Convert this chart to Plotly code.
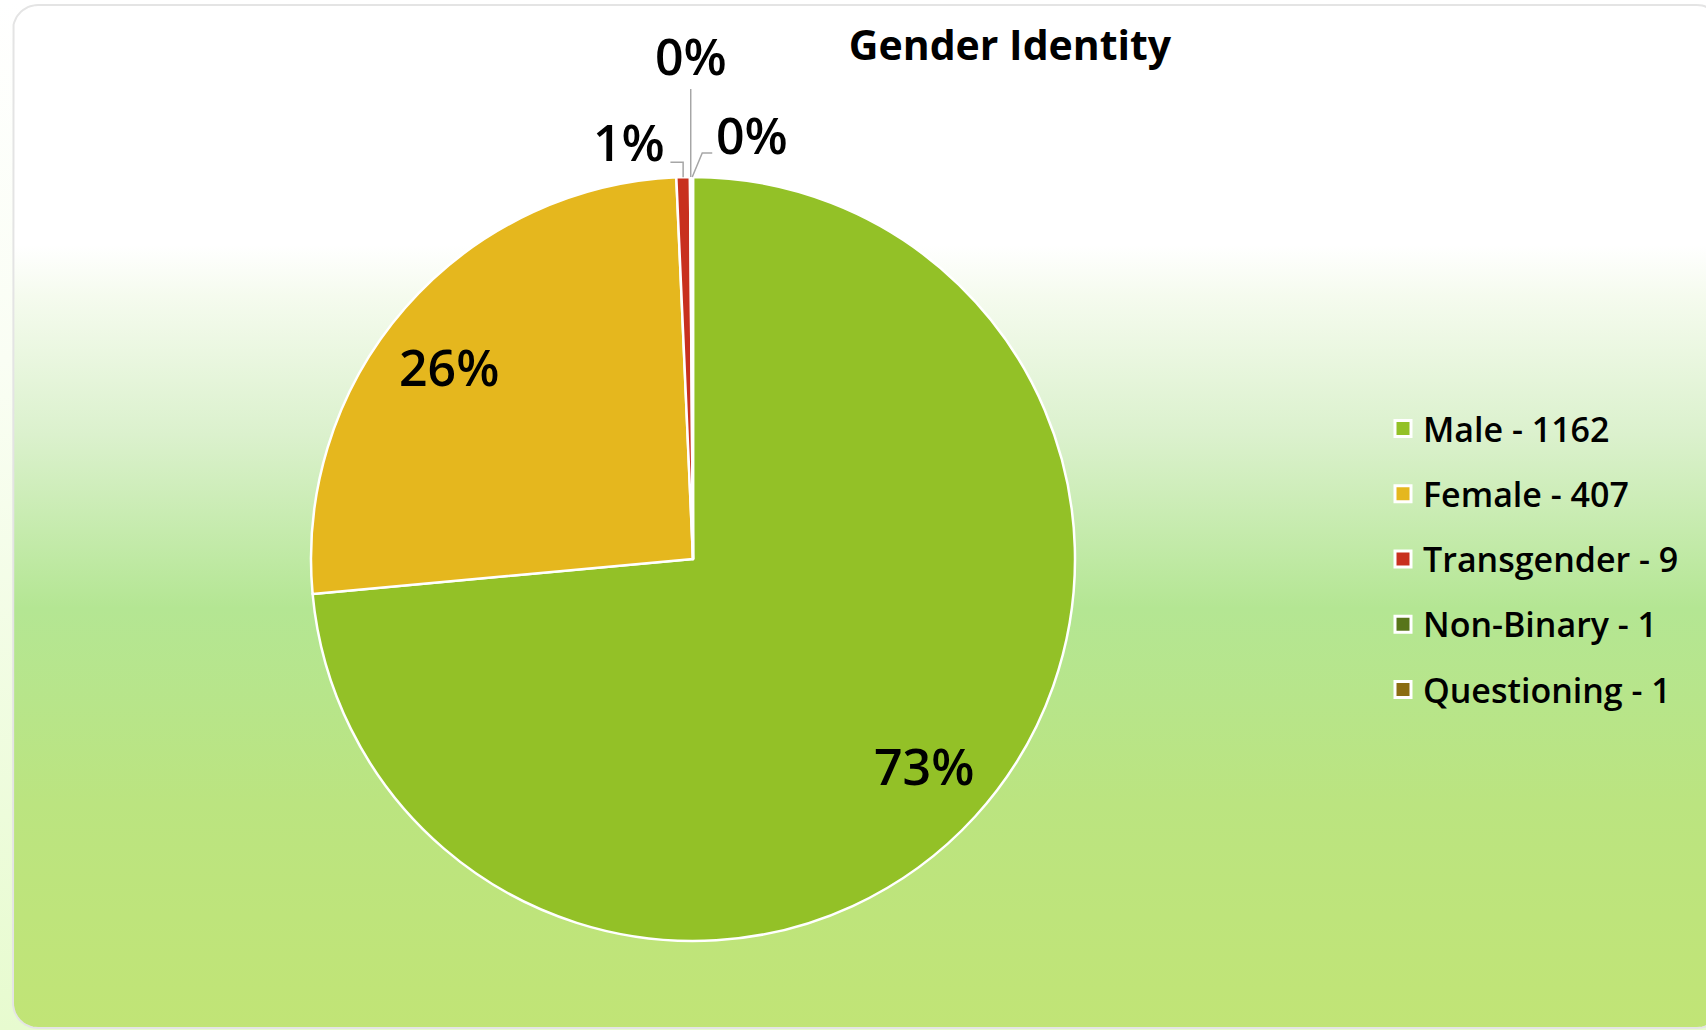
import numpy as np
import plotly.graph_objects as go

# ---------------- data ----------------
categories = ["Male", "Female", "Transgender", "Non-Binary", "Questioning"]
counts = [1162, 407, 9, 1, 1]
pct_labels = ["73%", "26%", "1%", "0%", "0%"]
colors = ["#93c127", "#e5b71e", "#c8301e", "#58751a", "#8b6d12"]
title_text = "Gender Identity"

# ---------------- layout constants ----------------
W, H = 1706, 1030
CX, CY, R = 693, 559, 382
FONT = "Open Sans"

fig = go.Figure()

# page background (outside the card)
fig.add_trace(go.Scatter(
    x=[0, W, W, 0, 0], y=[0, 0, H, H, 0], mode="none", fill="toself",
    fillgradient=dict(type="vertical", start=0, stop=H,
                      colorscale=[[0, "#ffffff"], [0.35, "#fafef4"], [1, "#e7fbcf"]]),
    hoverinfo="skip", showlegend=False))

# rounded card with vertical gradient
def rounded_rect(x0, y0, x1, y1, r, n=16):
    xs, ys = [], []
    corners = [(x1 - r, y0 + r, -90, 0), (x1 - r, y1 - r, 0, 90),
               (x0 + r, y1 - r, 90, 180), (x0 + r, y0 + r, 180, 270)]
    for cx, cy, a0, a1 in corners:
        for a in np.linspace(np.radians(a0), np.radians(a1), n):
            xs.append(cx + r * np.cos(a))
            ys.append(cy + r * np.sin(a))
    xs.append(xs[0]); ys.append(ys[0])
    return xs, ys

cx_, cy_ = rounded_rect(13, 5, 1722, 1028, 25)
fig.add_trace(go.Scatter(
    x=cx_, y=cy_, mode="lines", fill="toself",
    line=dict(color="#e4e4e4", width=2),
    fillgradient=dict(type="vertical", start=5, stop=1028,
                      colorscale=[[0, "#ffffff"], [0.235, "#ffffff"], [0.285, "#f5fbee"],
                                  [0.42, "#dbf1cd"], [0.59, "#b4e693"], [0.78, "#bbe480"],
                                  [1, "#c1e476"]]),
    hoverinfo="skip", showlegend=False))

# pie
fig.add_trace(go.Pie(
    labels=categories, values=counts, sort=False, direction="clockwise", rotation=0,
    marker=dict(colors=colors, line=dict(color="white", width=2.5)),
    textinfo="none", hoverinfo="label+value+percent", showlegend=False,
    domain=dict(x=[(CX - R) / W, (CX + R) / W], y=[1 - (CY + R) / H, 1 - (CY - R) / H])))

# legend entries
for cat, cnt, col in zip(categories, counts, colors):
    fig.add_trace(go.Scatter(
        x=[None], y=[None], mode="markers", name=f"{cat} - {cnt}", legendgroup=cat,
        marker=dict(symbol="square", size=16, color=col, line=dict(color="white", width=3)),
        showlegend=True))

# slice geometry from data
vals = np.array(counts, dtype=float)
frac = vals / vals.sum()
start = np.concatenate([[0], np.cumsum(frac)[:-1]])
mid = np.radians(360 * (start + frac / 2))

def pt(theta, rho):
    return CX + rho * np.sin(theta), CY - rho * np.cos(theta)

annotations = []
shapes = []
LABEL_FONT = dict(family=FONT, size=50, color="#000000", weight=600)
# big slices: labels inside (small placement nudges)
inside_nudge = {0: (0, -4), 1: (-8, 14)}
for i in (0, 1):
    x, y = pt(mid[i], 0.82 * R)
    nx, ny = inside_nudge[i]
    annotations.append(dict(x=x + nx, y=y + ny, xref="x", yref="y", text=pct_labels[i],
                            showarrow=False, font=LABEL_FONT,
                            xanchor="center", yanchor="middle"))

# small slices: labels outside with leader lines (offsets relative to slice edge)
label_off = {2: (-54, -35), 3: (0, -121), 4: (60, -42)}
line_pts = {2: [(-12.7, -15), (0, -15)], 3: [(0, -88), (0, -88)], 4: [(20, -24), (10, -24)]}
for i in (2, 3, 4):
    ex, ey = pt(mid[i], R)
    dx, dy = label_off[i]
    annotations.append(dict(x=ex + dx, y=ey + dy, xref="x", yref="y", text=pct_labels[i],
                            showarrow=False, font=LABEL_FONT,
                            xanchor="center", yanchor="middle"))
    (ax, ay), (bx, by) = line_pts[i]
    shapes.append(dict(type="path", xref="x", yref="y",
                       path=f"M {ex+ax},{ey+ay} L {ex+bx},{ey+by} L {ex},{ey}",
                       line=dict(color="#a6a6a6", width=1.5), layer="above"))

fig.update_layout(
    width=W, height=H, margin=dict(l=0, r=0, t=0, b=0),
    paper_bgcolor="white", plot_bgcolor="rgba(0,0,0,0)",
    xaxis=dict(range=[0, W], visible=False, fixedrange=True, domain=[0, 1]),
    yaxis=dict(range=[H, 0], visible=False, fixedrange=True, domain=[0, 1]),
    title=dict(text=title_text, x=1010 / W, y=1 - 46 / H, xanchor="center", yanchor="middle",
               font=dict(family=FONT, size=41, color="#000000", weight="bold")),
    legend=dict(x=1383 / W, y=1 - 400 / H, xanchor="left", yanchor="top",
                font=dict(family=FONT, size=34, color="#000000", weight=600),
                tracegroupgap=18, bgcolor="rgba(0,0,0,0)", itemclick=False),
    annotations=annotations, shapes=shapes, showlegend=True)

fig.write_html("out.html", config={"displayModeBar": False},
               post_script="document.body.style.margin='0';document.body.style.overflow='hidden';")
